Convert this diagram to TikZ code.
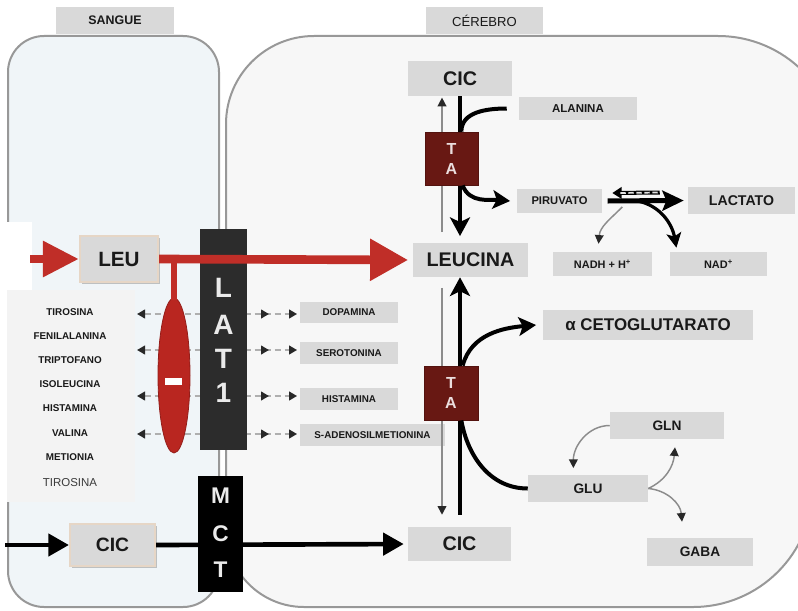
\documentclass[tikz,border=0pt]{standalone}
\usepackage{fontspec}
\setmainfont{Liberation Sans}
\usetikzlibrary{arrows.meta,shadows,shapes.geometric,calc,decorations.markings}

\definecolor{boxgray}{RGB}{217,217,217}
\definecolor{bloodfill}{RGB}{240,245,248}
\definecolor{brainfill}{RGB}{247,247,247}
\definecolor{edgegray}{RGB}{152,152,152}
\definecolor{redarrow}{RGB}{192,46,40}
\definecolor{ellred}{RGB}{185,38,32}
\definecolor{tabrown}{RGB}{104,24,19}
\definecolor{latgray}{RGB}{44,44,44}
\definecolor{thingray}{RGB}{140,140,140}
\definecolor{dashgray}{RGB}{175,175,175}
\definecolor{tanedge}{RGB}{230,214,198}
\definecolor{listbg}{RGB}{243,243,243}
\definecolor{txt}{RGB}{25,25,25}
\definecolor{arrdark}{RGB}{40,40,40}
\definecolor{taletter}{RGB}{235,222,222}

\newcommand{\myfs}[1]{\fontsize{#1}{#1}\selectfont}

\begin{document}
\begin{tikzpicture}[x=0.75pt,y=-0.75pt,
  wh/.style 2 args={minimum width=#1*0.75pt, minimum height=#2*0.75pt},
  gbox/.style={fill=boxgray, text=txt, inner sep=0pt},
  smallbox/.style={gbox, font=\myfs{7.4}\bfseries},
  midbox/.style={gbox, font=\myfs{8.4}\bfseries},
  glbox/.style={gbox, font=\myfs{10.3}\bfseries},
  bigbox/.style={gbox, font=\myfs{14.8}\bfseries},
  listtext/.style={text=txt, font=\myfs{7.4}\bfseries, inner sep=0pt},
  leubox/.style={fill=boxgray, draw=tanedge, line width=1.6pt, text=txt, inner sep=0pt,
     drop shadow={shadow xshift=1.3pt, shadow yshift=-1.3pt, fill=black!45}},
  tabox/.style={fill=tabrown, draw=tabrown!80!black, line width=0.6pt, inner sep=0pt},
  taltr/.style={text=taletter, font=\myfs{12}\bfseries, inner sep=0pt},
  latltr/.style={text=white!92!black, font=\myfs{21}\bfseries, inner sep=0pt},
  mctltr/.style={text=white!92!black, font=\myfs{17}\bfseries, inner sep=0pt},
  redline/.style={draw=redarrow, line width=6.5pt},
  blk/.style={draw=black, line width=3.5pt, -{Triangle[length=15.5pt,width=16.5pt]}},
  vthick/.style={draw=black, line width=3.6pt, -{Stealth[length=14pt,width=15pt,inset=3.5pt]}},
  crv/.style={draw=black, line width=3pt},
  crvarrow/.style={crv, -{Stealth[length=13pt,width=14pt,inset=3pt]}},
  thinarr/.style={draw=thingray, line width=1.1pt, -{Triangle[length=6.5pt,width=6.5pt,color=arrdark]}},
  dashrow/.style={draw=dashgray, line width=1.5pt, dash pattern=on 5pt off 2.5pt,
     {Triangle[length=6pt,width=6.5pt,color=arrdark]}-{Triangle[length=6pt,width=6.5pt,color=arrdark]},
     shorten >=2pt,
     postaction={decorate, decoration={markings, mark=at position 99pt with {\arrow{Triangle[length=6pt,width=6.5pt,color=arrdark]}}}}}
]
\useasboundingbox (0,0) rectangle (798,610);
\clip (0,0) rectangle (798,610);

% compartments
\draw[fill=bloodfill, draw=edgegray, line width=1.5pt, rounded corners=27pt] (8,36) rectangle (219,607);
\draw[fill=brainfill, draw=edgegray, line width=1.5pt]
  (226,529) -- (226,124) arc[start angle=180,end angle=270,radius=88]
  -- (718,36) arc[start angle=270,end angle=360,radius=120]
  -- (813,487) arc[start angle=0,end angle=90,radius=120]
  -- (304,607) arc[start angle=90,end angle=180,radius=78] -- cycle;
\fill[white] (0,222) rectangle (32,292);
\fill[listbg] (7,290) rectangle (135,502);

% headers
\node[gbox, wh={118}{27}, font=\myfs{9.3}\bfseries] (sangue) at (115,20.5) {SANGUE};
\node[gbox, wh={117}{27}, font=\myfs{9.8}] (cerebro) at (484.5,20.5) {CÉREBRO};

% blood side boxes
\node[leubox, wh={78}{46}, font=\myfs{15.5}\bfseries] (leu) at (119,259) {LEU};
\node[leubox, wh={85}{42}, font=\myfs{14.5}\bfseries] (cicL) at (112.5,545) {CIC};

% list of amino acids
\node[listtext] (t1) at (70,312) {TIROSINA};
\node[listtext] (t2) at (70,336) {FENILALANINA};
\node[listtext] (t3) at (70,360) {TRIPTOFANO};
\node[listtext] (t4) at (70,384) {ISOLEUCINA};
\node[listtext] (t5) at (70,408) {HISTAMINA};
\node[listtext] (t6) at (70,433) {VALINA};
\node[listtext] (t7) at (70,457) {METIONIA};
\node[text=txt!85!white, font=\myfs{8.6}, inner sep=0pt] (t8) at (70,483) {TIROSINA};

% neurotransmitter boxes
\node[smallbox, wh={98}{21}] (dop) at (349,312.5) {DOPAMINA};
\node[smallbox, wh={98}{22}] (sero) at (349,353) {SEROTONINA};
\node[smallbox, wh={98}{22}] (hist) at (349,399) {HISTAMINA};
\node[smallbox, wh={145}{22}] (sadeno) at (372.5,435) {S-ADENOSILMETIONINA};

% dashed exchange rows
\coordinate (L1) at (137,314);
\coordinate (L2) at (137,350);
\coordinate (L3) at (137,396);
\coordinate (L4) at (137,434);
\draw[dashrow] (L1) -- (dop.west |- L1);
\draw[dashrow] (L2) -- (sero.west |- L2);
\draw[dashrow] (L3) -- (hist.west |- L3);
\draw[dashrow] (L4) -- (sadeno.west |- L4);

% inhibition
\node[ellipse, fill=ellred, draw=ellred!80!black, line width=0.6pt, wh={32}{155}, inner sep=0pt] (ell) at (174,375.5) {};
\coordinate (stem) at (ell.north |- leu.east);
\draw[draw=redarrow, line width=4.8pt] (stem) -- ([yshift=-2pt]ell.north);
\node[fill=white, wh={17}{7}, inner sep=0pt] (minus) at (173.5,381.5) {};

% LAT1 transporter
\node[fill=latgray, wh={47}{221}, inner sep=0pt] (lat) at (223.5,339.5) {};
\node[latltr] (lL) at (223.5,288) {L};
\node[latltr] (lA) at (223.5,325) {A};
\node[latltr] (lT) at (223.5,359) {T};
\node[latltr] (l1) at (223.5,393) {1};

% brain central boxes
\node[bigbox, wh={104}{35}] (cicT) at (460,78.5) {CIC};
\node[gbox, wh={118}{23}, font=\myfs{8.6}\bfseries] (ala) at (578,108.5) {ALANINA};
\node[midbox, wh={85}{24}] (piru) at (559.5,201) {PIRUVATO};
\node[gbox, wh={107}{27}, font=\myfs{10.6}\bfseries] (lact) at (741.5,200.5) {LACTATO};
\node[gbox, wh={99}{24}, font=\myfs{8.2}\bfseries] (nadh) at (602.5,264) {NADH + H\textsuperscript{+}};
\node[gbox, wh={97}{24}, font=\myfs{8.2}\bfseries] (nad) at (718.5,264) {NAD\textsuperscript{+}};
\node[bigbox, wh={115}{34}] (leucina) at (470.5,260) {LEUCINA};
\node[gbox, wh={210}{30}, font=\myfs{12.7}\bfseries] (aceto) at (648,325) {α CETOGLUTARATO};
\node[bigbox, wh={103}{34}] (cicR) at (459.5,544) {CIC};
\node[glbox, wh={114}{27}] (gln) at (667,425.5) {GLN};
\node[glbox, wh={120}{27}] (glu) at (588,488.5) {GLU};
\node[glbox, wh={106}{28}] (gaba) at (700,552) {GABA};

% red leucine flow
\coordinate (rin) at (30,259);
\draw[redline, -{Triangle[length=27pt,width=25.5pt]}] (rin) -- (leu.west);
\draw[redline, shorten >=3.5pt, -{Triangle[length=28.5pt,width=30pt]}] (leu.east) -- (leucina.west);

% CIC flow
\coordinate (cin) at (5,545);
\draw[blk] (cin) -- (cicL.west);
\draw[blk, shorten >=3pt] (cicL.east) -- (cicR.west);

% MCT transporter
\node[fill=black, wh={45}{116}, inner sep=0pt] (mct) at (220.5,534) {};
\node[mctltr] (mM) at (220.5,496) {M};
\node[mctltr] (mC) at (220.5,534) {C};
\node[mctltr] (mT) at (220.5,570) {T};

% vertical flows
\coordinate (vx) at (460,0);
\coordinate (vt) at (442,0);
\draw[thinarr, shorten <=8pt, shorten >=1pt] (leucina.north -| vt) -- (cicT.south -| vt);
\draw[vthick, shorten >=5pt] (cicT.south -| vx) -- (leucina.north -| vx);
\draw[vthick, shorten <=9pt] (cicR.north -| vx) -- (leucina.south -| vx);
\draw[thinarr, shorten <=8pt, shorten >=9pt] (leucina.south -| vt) -- (cicR.north -| vt);

% transaminase boxes
\node[tabox, wh={53}{53}] (ta1) at (451.5,158.5) {};
\node[taltr] (ta1T) at ([yshift=7.5pt]ta1.center) {T};
\node[taltr] (ta1A) at ([yshift=-7.5pt]ta1.center) {A};
\node[tabox, wh={54}{54}] (ta2) at (451,393) {};
\node[taltr] (ta2T) at ([yshift=7.5pt]ta2.center) {T};
\node[taltr] (ta2A) at ([yshift=-7.5pt]ta2.center) {A};

% transamination curves
\coordinate (alaend) at ([xshift=-9pt]ala.west);
\draw[crv] (alaend) to[out=180,in=90] ([xshift=1pt]ta1.north -| vx);
\draw[crvarrow] ([xshift=2pt]ta1.south -| vx) to[out=-70,in=175] ([xshift=-5pt]piru.west);
\draw[crvarrow] ([xshift=2pt]ta2.north -| vx) to[out=75,in=185] ([xshift=-5pt]aceto.west);
\draw[crv] (glu.west) to[out=180,in=-80] ([xshift=1pt]ta2.south -| vx);

% piruvate / lactate
\draw[draw=black, line width=3.8pt, shorten <=4pt, shorten >=3pt, -{Stealth[length=16pt,width=15pt,inset=3pt]}] (piru.east) -- (lact.west);
\coordinate (b1) at ($(piru.east)+(10,-8)$);
\coordinate (b2) at ($(lact.west)+(-28,-8)$);
\draw[draw=black, line width=3pt, -{Triangle[length=7pt,width=8.5pt]}] (b2) -- (b1);
\draw[draw=white!78!gray, line width=1.3pt, dash pattern=on 4pt off 2pt] ([xshift=-1.5pt]b2) -- ([xshift=6pt]b1);
\coordinate (n1) at ($(piru.east)+(20,6)$);
\coordinate (n2) at ($(piru.east)!0.4!(lact.west)$);
\draw[thinarr] (n1) to[out=-135,in=85] ([xshift=-3pt,yshift=6pt]nadh.north);
\draw[draw=black, line width=2.4pt, -{Stealth[length=11pt,width=11pt,inset=2.5pt]}] (n2) to[out=-10,in=100] ([xshift=5pt,yshift=3pt]nad.north west);

% glutamate cycle
\draw[thinarr] (gln.west) to[out=180,in=90] ([xshift=-11pt,yshift=5pt]glu.north);
\draw[thinarr] (glu.east) to[out=25,in=-95] ([xshift=6pt,yshift=-6pt]gln.south);
\draw[thinarr] (glu.east) to[out=-5,in=95] ([xshift=-13.5pt,yshift=12pt]gaba.north);
\end{tikzpicture}
\end{document}
